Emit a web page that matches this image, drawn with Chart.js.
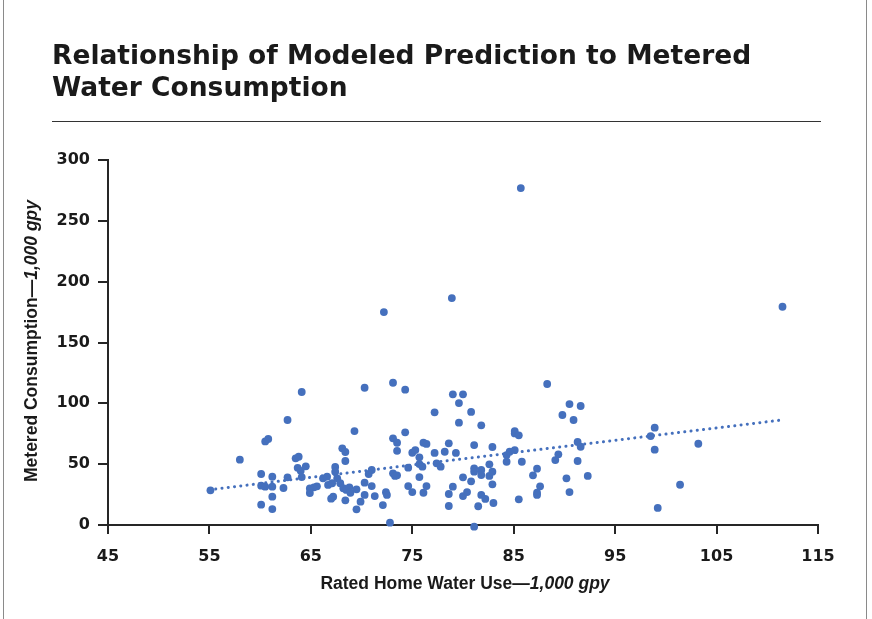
<!DOCTYPE html>
<html>
<head>
<meta charset="utf-8">
<script src="https://cdn.jsdelivr.net/npm/chart.js@4/dist/chart.umd.min.js"></script>
<style>
  html, body { margin: 0; padding: 0; background: #fff; }
  #wrap { position: relative; width: 872px; height: 619px; overflow: hidden; }
  #frame { position: absolute; left: 3px; top: 0; width: 862px; height: 619px;
           border-left: 1px solid #8a8a8a; border-right: 1px solid #8a8a8a; }
  #title { position: absolute; left: 52px; top: 39px; margin: 0;
           font: bold 26.5px "DejaVu Sans", sans-serif; line-height: 32px; color: #1a1a1a; }
  #rule { position: absolute; left: 52px; top: 121px; width: 769px; height: 1px; background: #333; }
  #ytitle { position: absolute; left: 31px; top: 341px; transform: translate(-50%, -50%) rotate(-90deg);
            white-space: nowrap; font: bold 17.5px "Liberation Sans", Arial, sans-serif; color: #1a1a1a; }
  #xtitle { position: absolute; left: 465px; top: 583px; transform: translate(-50%, -50%);
            white-space: nowrap; font: bold 17.5px "Liberation Sans", Arial, sans-serif; color: #1a1a1a; }
  canvas { position: absolute; left: 0; top: 0; }
</style>
</head>
<body>
<div id="wrap">
  <canvas id="scatterChart" width="872" height="619"></canvas>
  <div id="frame"></div>
  <h1 id="title">Relationship of Modeled Prediction to Metered<br>Water Consumption</h1>
  <div id="rule"></div>
  <div id="ytitle">Metered Consumption—<i>1,000 gpy</i></div>
  <div id="xtitle">Rated Home Water Use—<i>1,000 gpy</i></div>
</div>
<script>
// rated home water use (1,000 gpy) for each home
const ratedUse = [
    55.1, 58.0, 60.1, 60.1, 60.5, 60.1, 61.2, 61.2, 61.2, 61.2,
    60.5, 60.8, 62.7, 64.1, 62.3, 62.7, 63.5, 63.8, 63.7, 64.0,
    64.5, 64.1, 64.9, 65.3, 65.6, 64.9, 66.2, 66.6, 66.7, 67.1,
    67.4, 67.4, 68.1, 68.4, 68.4, 67.6, 67.9, 68.2, 68.5, 67.2,
    67.0, 68.4, 70.3, 73.1, 74.3, 69.3, 77.2, 79.0, 80.0, 79.6,
    80.8, 79.6, 81.8, 68.8, 68.9, 69.5, 69.5, 69.9, 70.3, 70.3,
    70.7, 71.0, 71.0, 71.3, 72.1, 72.4, 72.5, 72.8, 73.1, 73.5,
    73.5, 73.1, 73.3, 73.5, 74.3, 74.6, 74.6, 75.0, 75.0, 75.3,
    75.7, 75.7, 76.0, 75.7, 76.1, 76.4, 76.1, 76.4, 77.2, 77.4,
    77.8, 78.2, 78.6, 79.3, 79.0, 78.6, 78.6, 80.0, 80.8, 80.0,
    80.4, 81.1, 81.1, 81.1, 81.8, 81.8, 81.1, 81.5, 81.8, 82.2,
    82.6, 82.6, 82.9, 82.9, 82.9, 83.0, 88.3, 90.5, 91.6, 89.8,
    90.9, 85.1, 85.1, 85.5, 84.3, 84.6, 85.1, 84.3, 85.8, 85.5,
    87.3, 86.9, 87.6, 87.3, 87.3, 89.1, 89.4, 90.2, 90.5, 91.3,
    91.6, 91.3, 92.3, 111.5, 98.9, 98.5, 98.9, 103.2, 101.4, 99.2,
    85.7, 78.9, 72.2
];

// metered consumption (1,000 gpy) for the same homes
const meteredUse = [
    28.5, 53.7, 41.9, 32.3, 31.5, 16.7, 39.7, 31.5, 23.3, 13.1,
    68.7, 70.7, 86.3, 109.3, 30.4, 39.2, 54.8, 56.1, 47.0, 44.5,
    48.2, 39.4, 30.1, 31.0, 31.8, 26.3, 38.4, 39.7, 32.9, 34.3,
    47.7, 43.8, 63.0, 60.0, 52.6, 38.4, 34.3, 30.2, 28.8, 23.3,
    21.6, 20.3, 112.8, 116.9, 111.2, 77.2, 92.6, 107.4, 107.4, 100.2,
    92.9, 84.1, 81.9, 31.0, 26.5, 29.3, 12.9, 19.2, 24.7, 34.8,
    41.9, 45.2, 32.0, 23.8, 16.4, 26.9, 24.7, 1.9, 71.2, 67.6,
    61.0, 42.5, 40.3, 40.8, 76.2, 47.1, 32.0, 27.1, 59.4, 61.6,
    55.6, 50.1, 47.9, 39.4, 26.5, 32.0, 67.6, 66.6, 59.2, 50.7,
    47.9, 60.2, 67.1, 59.2, 31.5, 25.5, 15.6, 39.2, 35.9, 23.8,
    27.1, 65.7, 46.6, 43.8, 45.2, 41.1, -1.4, 15.4, 24.7, 21.4,
    49.9, 40.3, 43.8, 33.4, 64.1, 18.1, 115.9, 99.4, 97.8, 90.4,
    86.3, 77.2, 75.3, 73.7, 57.5, 60.2, 61.6, 52.0, 52.0, 21.1,
    46.3, 40.8, 31.8, 26.5, 24.7, 53.4, 58.1, 38.4, 27.1, 68.2,
    64.3, 52.6, 40.3, 179.4, 80.0, 73.1, 61.9, 66.8, 33.1, 14.0,
    276.9, 186.5, 175.0
];

// dotted trend line ends
const trendX = [55, 111.6];
const trendY = [29, 86.5];

const xTicks = [45, 55, 65, 75, 85, 95, 105, 115];
const yTicks = [0, 50, 100, 150, 200, 250, 300];

const points = ratedUse.map((x, i) => ({ x: x, y: meteredUse[i] }));
const trend = trendX.map((x, i) => ({ x: x, y: trendY[i] }));

const axisColor = '#262626';
const tickFont = { family: '"DejaVu Sans", sans-serif', size: 16, weight: 'bold' };

const ctx = document.getElementById('scatterChart').getContext('2d');
new Chart(ctx, {
    type: 'scatter',
    data: {
        datasets: [{
            label: 'Homes',
            data: points,
            backgroundColor: '#4570bd',
            borderColor: '#4570bd',
            pointRadius: 3.9,
            pointBorderWidth: 0,
            clip: false,
            order: 1
        }, {
            type: 'line',
            label: 'Trend',
            data: trend,
            showLine: true,
            borderColor: '#4570bd',
            borderWidth: 3,
            borderDash: [0.1, 6.2],
            borderCapStyle: 'round',
            pointRadius: 0,
            fill: false,
            order: 2
        }]
    },
    options: {
        responsive: false,
        animation: false,
        layout: {
            padding: { left: 0, top: 160, right: 54, bottom: 54 }
        },
        plugins: {
            legend: { display: false },
            tooltip: { enabled: false }
        },
        scales: {
            x: {
                type: 'linear',
                min: 45,
                max: 115,
                afterBuildTicks: scale => { scale.ticks = xTicks.map(v => ({ value: v })); },
                afterFit: scale => { scale.height = 40; },
                border: { display: true, color: axisColor, width: 2 },
                grid: { drawOnChartArea: false, drawTicks: true, tickLength: 9, color: axisColor, lineWidth: 2 },
                ticks: { color: '#1a1a1a', font: tickFont, padding: 13, maxRotation: 0 }
            },
            y: {
                type: 'linear',
                min: 0,
                max: 300,
                afterBuildTicks: scale => { scale.ticks = yTicks.map(v => ({ value: v })); },
                afterFit: scale => { scale.width = 108; },
                border: { display: true, color: axisColor, width: 2 },
                grid: { drawOnChartArea: false, drawTicks: true, tickLength: 10, color: axisColor, lineWidth: 2 },
                ticks: { color: '#1a1a1a', font: tickFont, padding: 8 }
            }
        }
    }
});
</script>
</body>
</html>
